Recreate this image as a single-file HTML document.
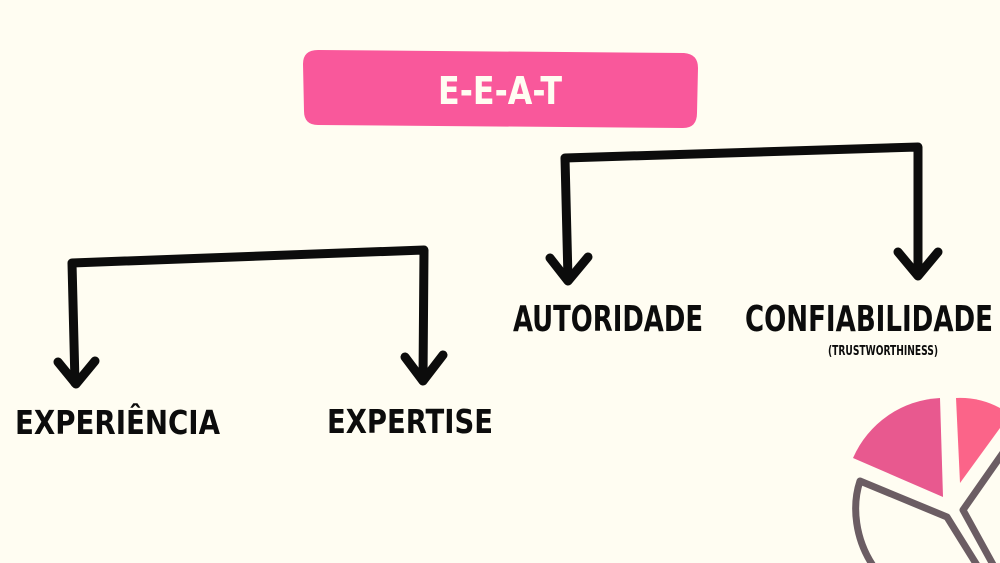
<!DOCTYPE html>
<html>
<head>
<meta charset="utf-8">
<style>
  html,body{margin:0;padding:0;background:#fffdf2;}
  svg{display:block;}
  .t{font-family:"Liberation Sans Narrow","DejaVu Sans Condensed","Liberation Sans",sans-serif;font-weight:bold;fill:#0c0c0c;}
</style>
</head>
<body>
<svg width="1000" height="563" viewBox="0 0 1000 563" xmlns="http://www.w3.org/2000/svg">
  <rect x="0" y="0" width="1000" height="563" fill="#fffdf2"/>

  <!-- Title pill -->
  <path d="M318,50 L684,53 Q698,54 698,68 L697,113 Q697,128 683,128 L318,125 Q304,125 304,111 L303,64 Q303,50 318,50 Z" fill="#f9589b"/>
  <text class="t" x="438" y="104" font-size="38" textLength="124" lengthAdjust="spacingAndGlyphs" style="fill:#fffdf2">E-E-A-T</text>

  <!-- Brackets -->
  <g fill="none" stroke="#0c0c0c" stroke-width="9" stroke-linecap="round" stroke-linejoin="round">
    <path d="M75,383 L72,263 L424,250 L423,379"/>
    <path d="M58,362 L76,384 L95,361"/>
    <path d="M405,357 L423,381 L443,355"/>
    <path d="M568,279 L565,158 L918,147 L918,275"/>
    <path d="M550,258 L568,281 L588,257"/>
    <path d="M898,252 L918,276 L938,252"/>
  </g>

  <!-- Labels -->
  <text class="t" x="15" y="434" font-size="33" textLength="205" lengthAdjust="spacingAndGlyphs">EXPERIÊNCIA</text>
  <text class="t" x="327" y="433" font-size="33" textLength="166" lengthAdjust="spacingAndGlyphs">EXPERTISE</text>
  <text class="t" x="513" y="331" font-size="36" textLength="190" lengthAdjust="spacingAndGlyphs">AUTORIDADE</text>
  <text class="t" x="745" y="331" font-size="36" textLength="248" lengthAdjust="spacingAndGlyphs">CONFIABILIDADE</text>
  <text class="t" x="828" y="355" font-size="13" textLength="110" lengthAdjust="spacingAndGlyphs">(TRUSTWORTHINESS)</text>

  <!-- Pie chart decoration -->
  <path d="M943,497 L853,458 A100,100 0 0,1 940,398 Z" fill="#e8598f"/>
  <path d="M960,483 L956,398 A85,85 0 0,1 1000,408 L1000,428 Z" fill="#fb6489"/>
  <g fill="none" stroke="#6b5d63" stroke-width="7" stroke-linejoin="round">
    <path d="M876,570 C854,540 852,505 860,481 L947,517 L980,570"/>
    <path d="M1005,450 L963,510 L996,570"/>
  </g>
</svg>
</body>
</html>
